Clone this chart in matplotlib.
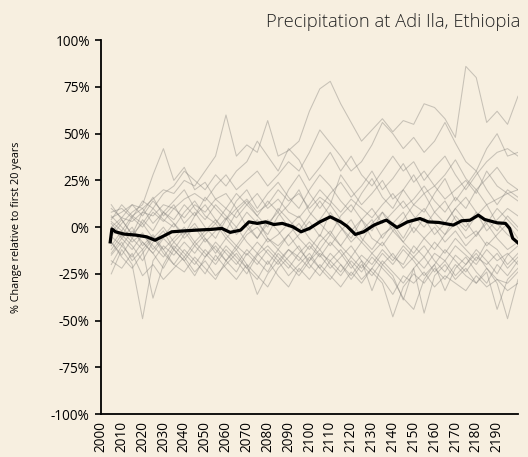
import numpy as np
import matplotlib.pyplot as plt
from matplotlib.ticker import FuncFormatter

# years shared by the model runs (5-year steps)
years = list(range(2005, 2201, 5))

# individual model runs, % change relative to first 20 years
run01 = [5, 8, 12, 10, 15, 20, 18, 25, 22, 30, 38, 60, 38, 44, 40, 57, 38, 41, 46, 62,
         74, 78, 66, 56, 46, 52, 58, 51, 57, 55, 66, 64, 58, 48, 86, 80, 56, 62, 55, 70]
run02 = [0, 5, 3, 8, 6, 12, 10, 15, 18, 14, 22, 28, 20, 25, 30, 22, 28, 35, 30, 40,
         52, 45, 38, 30, 35, 44, 56, 50, 42, 48, 40, 46, 56, 45, 35, 30, 42, 50, 38, 40]
run03 = [-5, 2, 8, 12, 28, 42, 25, 32, 20, 24, 15, 18, 10, 15, 8, 12, 20, 14, 18, 10,
         16, 12, 28, 20, 12, 18, 25, 15, 20, 28, 18, 22, 15, 20, 25, 18, 30, 22, 18, 20]
run04 = [8, 10, 5, 14, 10, 18, 22, 30, 25, 20, 28, 22, 30, 35, 46, 38, 30, 42, 36, 25,
         32, 40, 30, 38, 28, 22, 30, 38, 30, 35, 25, 32, 38, 28, 20, 28, 35, 40, 42, 38]
run05 = [2, -5, 5, 0, 8, 3, 10, 5, 12, 8, 15, 10, 5, 12, 18, 10, 15, 8, 5, 12,
         20, 14, 8, 15, 10, 5, 12, 18, 10, 15, 22, 14, 8, 16, 10, 20, 12, 15, 18, 14]
run06 = [-10, -2, -8, -3, -12, -5, 2, -6, 0, -8, -2, 5, -4, 2, -6, 4, -2, -10, -4, 3,
         -5, 8, 0, -8, -2, 4, -6, 2, 8, -3, 5, -4, 2, 10, 3, -5, 4, -2, 6, 0]
run07 = [-25, -12, -20, -49, -18, -10, -15, -8, -14, -6, -12, -18, -10, -15, -8, -14, -20, -12, -18, -10,
         -16, -8, -14, -22, -15, -20, -12, -18, -10, -16, -22, -14, -18, -10, -15, -20, -12, -18, -14, -20]
run08 = [-15, -8, -18, -12, -38, -20, -10, -16, -8, -14, -20, -12, -18, -25, -15, -10, -16, -22, -14, -8,
         -15, -22, -16, -10, -18, -34, -20, -14, -22, -16, -10, -18, -24, -15, -20, -12, -18, -25, -15, -10]
run09 = [-8, -15, -6, -12, -5, -14, -20, -12, -18, -25, -15, -22, -28, -20, -36, -25, -18, -26, -20, -14,
         -22, -28, -20, -26, -18, -24, -30, -48, -32, -25, -30, -22, -28, -20, -26, -30, -22, -28, -30, -24]
run10 = [-5, -10, -2, -8, -14, -6, -12, -18, -10, -16, -8, -14, -20, -12, -18, -24, -14, -20, -26, -18,
         -12, -20, -26, -18, -24, -16, -22, -28, -38, -44, -28, -20, -34, -22, -16, -24, -30, -20, -26, -18]
run11 = [0, -6, -12, -4, -10, -16, -8, -14, -20, -12, -18, -10, -16, -22, -14, -20, -12, -18, -24, -16,
         -22, -14, -20, -28, -20, -26, -18, -24, -30, -22, -46, -26, -20, -28, -22, -30, -24, -44, -28, -22]
run12 = [10, 5, 12, 6, 14, 8, 4, 12, 6, 16, 10, 4, 14, 20, 10, 18, 24, 16, 10, 20,
         28, 22, 14, 8, 18, 26, 16, 10, 20, 12, 8, 18, 26, 14, 22, 30, 20, 12, 20, 16]
run13 = [-3, 4, -4, 2, -6, 0, -8, -2, -10, -4, 2, -6, -12, -4, 0, -8, -4, 2, -6, -12,
         -4, -10, -2, 4, -6, -12, -4, 0, -8, -14, -6, 0, -8, -2, -10, -4, 2, -6, -12, -8]
run14 = [-18, -22, -14, -26, -20, -28, -22, -16, -24, -18, -26, -20, -14, -22, -28, -18, -26, -32, -22, -28,
         -20, -26, -32, -24, -30, -22, -28, -36, -26, -30, -24, -32, -26, -30, -34, -26, -32, -28, -34, -30]
run15 = [4, 12, 6, 10, 2, 8, 14, 20, 10, 4, 12, 6, 0, 8, 2, -4, 6, 12, 20, 8,
         2, -4, 6, 12, 4, -2, 8, 2, -6, 4, 10, 2, -4, 6, 0, 8, -2, 4, 10, 6]
run16 = [-12, -4, -10, -18, -8, -2, -12, -4, 2, -6, -14, -6, 0, -8, -14, -6, -10, -4, -12, -18,
         -8, -2, -10, -16, -8, -14, -8, -16, -20, -10, -16, -8, -14, -6, -12, -18, -8, -12, -20, -14]
run17 = [3, -2, 6, 2, 10, 4, 0, 8, 14, 6, 2, 10, 18, 12, 6, 14, 8, 20, 28, 18,
         10, 18, 24, 16, 22, 30, 20, 26, 34, 24, 30, 22, 28, 36, 26, 20, 26, 32, 24, 20]
run18 = [-20, -10, -16, -8, -14, -22, -12, -18, -26, -16, -10, -18, -24, -14, -20, -12, -18, -12, -16, -22,
         -14, -18, -24, -16, -22, -14, -20, -26, -39, -22, -16, -24, -18, -26, -20, -14, -22, -30, -49, -28]
run19 = [6, 0, -6, 4, -2, 8, 2, -4, 6, 12, 4, -2, 8, 14, 6, 0, 10, 4, -2, 6,
         14, 6, 0, -6, 4, 10, 2, 8, 14, 6, 0, 8, 14, 4, -2, 6, 12, 2, -4, -8]
run20 = [-14, -6, 0, -10, -4, -12, -6, 0, -8, -2, 4, -4, -10, -2, 4, -6, -12, -4, 2, -6,
         -12, -4, -10, -2, 4, -6, -10, -2, -8, 0, -6, -12, -4, 2, -6, -2, -10, -4, 2, -6]
run21 = [12, 4, -4, 8, 16, 6, 12, 2, 8, 0, -6, 4, 10, 0, -6, 2, 8, 0, 6, -2,
         4, 12, 4, -2, -8, 2, 8, -2, 4, 12, 18, 8, 2, 10, 16, 8, 2, 10, 4, -2]
run22 = [-8, -16, -22, -14, -6, -12, -20, -24, -16, -22, -28, -18, -12, -20, -26, -32, -22, -16, -10, -20,
         -26, -18, -12, -20, -28, -22, -14, -20, -12, -18, -26, -20, -12, -18, -24, -16, -20, -14, -22, -16]
runs = [run01, run02, run03, run04, run05, run06, run07, run08, run09, run10, run11,
        run12, run13, run14, run15, run16, run17, run18, run19, run20, run21, run22]

# ensemble mean (thick black line)
mean_years = [2004.5, 2005.3, 2007, 2011, 2017, 2022, 2026, 2030, 2034, 2040, 2046, 2053, 2058,
              2062, 2067, 2071, 2075, 2079, 2083, 2087, 2092, 2096, 2100, 2105, 2110, 2115,
              2118, 2122, 2126, 2131, 2136, 2137, 2142, 2147, 2153, 2157, 2162, 2169, 2173,
              2177, 2181, 2184, 2190, 2194, 2196, 2197.5, 2200]
mean_vals = [-7.9, -1.0, -2.5, -3.7, -4.3, -5.2, -7.0, -4.8, -2.5, -2.0, -1.6, -1.2, -0.7,
             -2.8, -1.6, 2.8, 2.0, 2.8, 1.4, 2.0, 0.2, -2.5, -0.7, 2.8, 5.5, 2.8,
             0.5, -3.9, -2.5, 1.1, 3.4, 3.7, -0.2, 2.8, 4.6, 2.8, 2.5, 1.1, 3.4,
             3.7, 6.4, 4.1, 2.3, 2.0, -0.7, -6.0, -8.4]

xticks = list(range(2000, 2191, 10))
yticks = [-100, -75, -50, -25, 0, 25, 50, 75, 100]

bg = '#f7efe0'
plt.rcParams['font.family'] = ['Open Sans', 'DejaVu Sans']

fig = plt.figure(figsize=(5.28, 4.57), dpi=100, facecolor=bg)
ax = fig.add_axes([0.191, 0.094, 0.79, 0.818], facecolor=bg)

for r in runs:
    ax.plot(years, r, color='#85827d', alpha=0.42, linewidth=0.75)
ax.plot(mean_years, mean_vals, color='black', linewidth=2.3)

ax.set_xlim(2000, 2200)
ax.set_ylim(-100, 100)
ax.set_xticks(xticks)
ax.set_xticklabels([str(x) for x in xticks], rotation=90, fontsize=9.8)
ax.set_yticks(yticks)
ax.yaxis.set_major_formatter(FuncFormatter(lambda v, p: '%d%%' % v))
ax.tick_params(axis='y', labelsize=9.8, length=4, width=1.2, pad=4)
ax.tick_params(axis='x', length=0, pad=5)

for s in ['top', 'right']:
    ax.spines[s].set_visible(False)
for s in ['left', 'bottom']:
    ax.spines[s].set_linewidth(1.3)

ax.set_ylabel('% Change relative to first 20 years', fontsize=7.8, labelpad=21)
fig.text(0.985, 0.952, 'Precipitation at Adi Ila, Ethiopia', ha='right', va='center',
         fontsize=13.2, fontweight='light', color='#222222')

fig.savefig('out.png', dpi=100, facecolor=bg)
